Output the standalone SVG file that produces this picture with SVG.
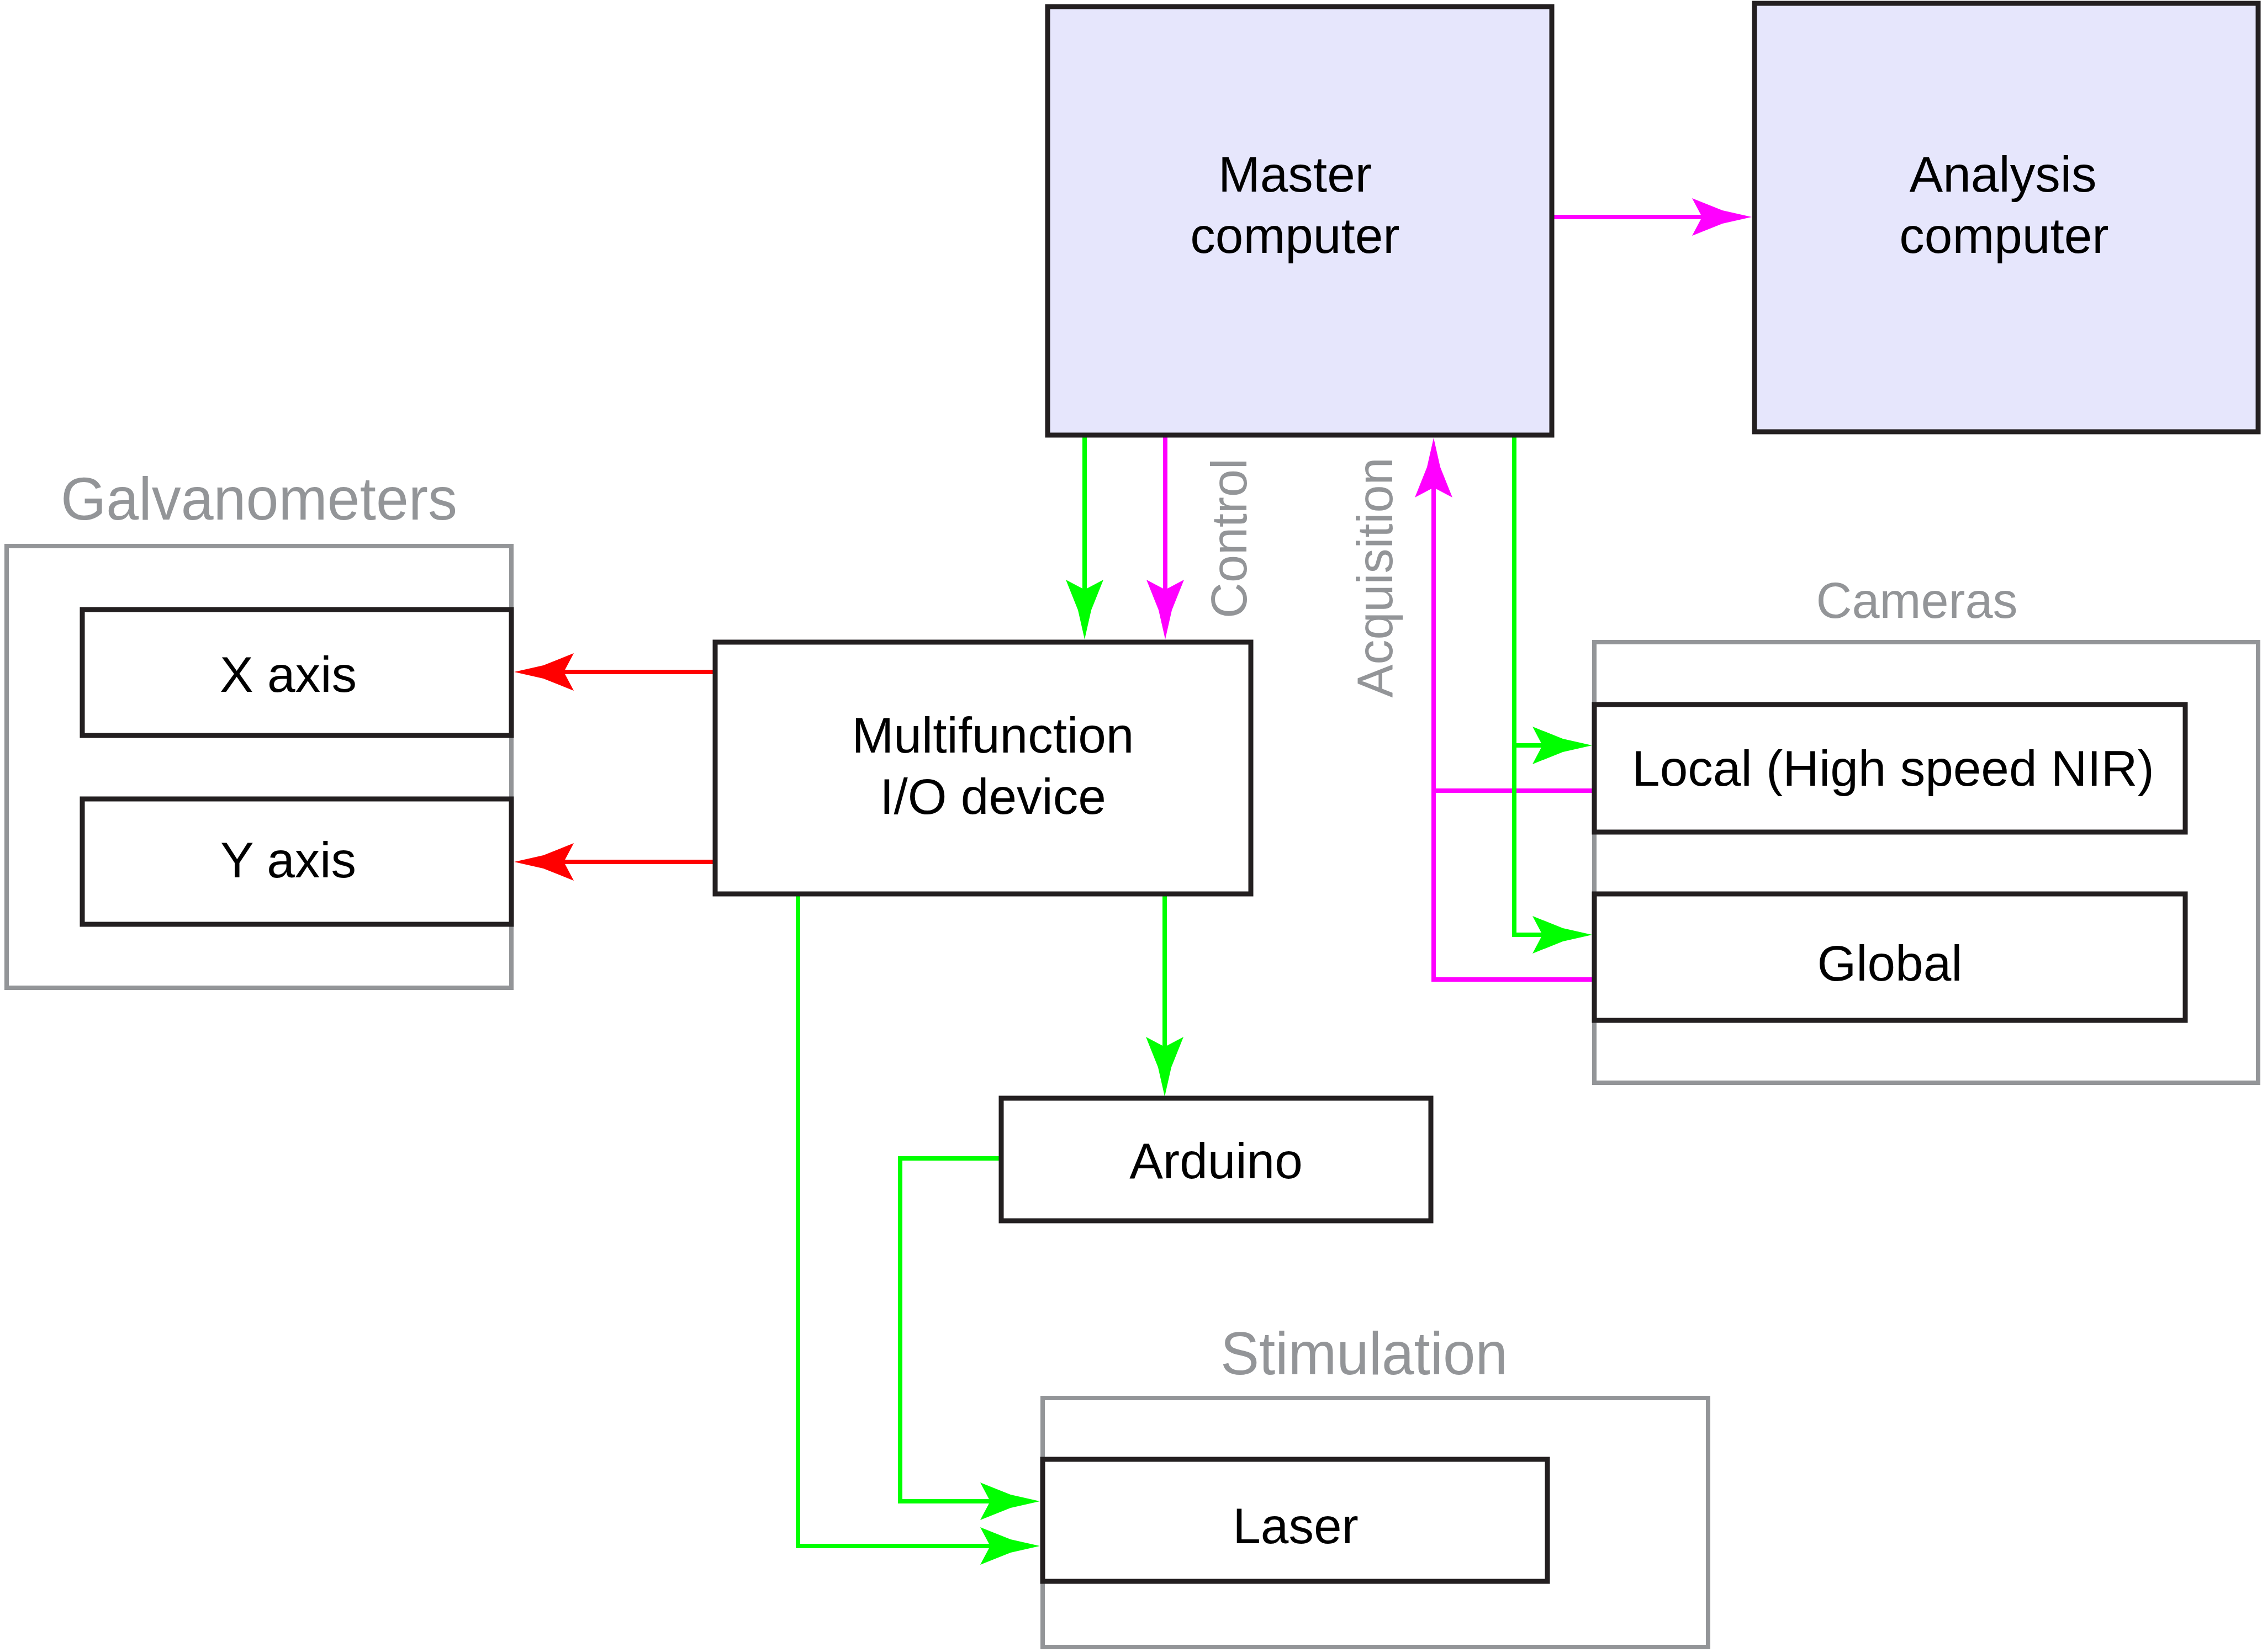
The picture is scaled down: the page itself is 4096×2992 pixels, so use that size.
<svg xmlns="http://www.w3.org/2000/svg" width="4096" height="2992" viewBox="0 0 4096 2992">
  <style>
    .box { fill: #ffffff; stroke: #231f20; stroke-width: 9; }
    .computer { fill: #e6e6fc; stroke: #231f20; stroke-width: 9; }
    .group { fill: none; stroke: #939598; stroke-width: 8; }
    .label { font-family: "Liberation Sans", Arial, Helvetica, sans-serif; font-size: 91px; fill: #000000; text-anchor: middle; }
    .title { font-family: "Liberation Sans", Arial, Helvetica, sans-serif; font-size: 110px; fill: #939598; text-anchor: middle; }
    .flow { font-family: "Liberation Sans", Arial, Helvetica, sans-serif; font-size: 90px; fill: #939598; text-anchor: middle; }
    .wire { fill: none; stroke-width: 8; stroke-linejoin: miter; stroke-linecap: butt; }
    .green { stroke: #00ff00; }
    .magenta { stroke: #ff00ff; }
    .red { stroke: #ff0000; }
  </style>
  <defs>
    <!-- swept arrowhead; the wire stops 70 units before the tip -->
    <marker id="arrow-green" markerUnits="userSpaceOnUse" orient="auto" viewBox="-112 -37 116 74" markerWidth="116" markerHeight="74" refX="-70" refY="0">
      <path d="M0,0 L-53,-12 L-108,-34 L-90,0 L-108,34 L-53,12 Z" fill="#00ff00"/>
    </marker>
    <marker id="arrow-magenta" markerUnits="userSpaceOnUse" orient="auto" viewBox="-112 -37 116 74" markerWidth="116" markerHeight="74" refX="-70" refY="0">
      <path d="M0,0 L-53,-12 L-108,-34 L-90,0 L-108,34 L-53,12 Z" fill="#ff00ff"/>
    </marker>
    <marker id="arrow-red" markerUnits="userSpaceOnUse" orient="auto" viewBox="-112 -37 116 74" markerWidth="116" markerHeight="74" refX="-70" refY="0">
      <path d="M0,0 L-53,-12 L-108,-34 L-90,0 L-108,34 L-53,12 Z" fill="#ff0000"/>
    </marker>
  </defs>

  <rect width="4096" height="2992" fill="#ffffff"/>

  <!-- grouping frames -->
  <g id="galvanometers">
    <rect class="group" x="12" y="989" width="914" height="800"/>
    <text class="title" x="469" y="941" textLength="718" lengthAdjust="spacingAndGlyphs">Galvanometers</text>
  </g>
  <g id="cameras">
    <rect class="group" x="2887" y="1163" width="1202" height="798"/>
    <text class="flow" x="3471" y="1119">Cameras</text>
  </g>
  <g id="stimulation">
    <rect class="group" x="1888" y="2532" width="1205" height="451"/>
    <text class="title" x="2470" y="2489" textLength="520" lengthAdjust="spacingAndGlyphs">Stimulation</text>
  </g>

  <!-- connectors -->
  <g id="connectors">
    <path class="wire magenta" d="M2810,393 H3102" marker-end="url(#arrow-magenta)"/>
    <path class="wire magenta" d="M2110,792 V1088" marker-end="url(#arrow-magenta)"/>
    <path class="wire magenta" d="M2887,1432 H2596"/>
    <path class="wire magenta" d="M2887,1774 H2596 V863" marker-end="url(#arrow-magenta)"/>
    <path class="wire green" d="M1964,792 V1088" marker-end="url(#arrow-green)"/>
    <path class="wire green" d="M2742,792 V1693 H2813" marker-end="url(#arrow-green)"/>
    <path class="wire green" d="M2742,1350 H2813" marker-end="url(#arrow-green)"/>
    <path class="wire red" d="M1291,1217 H1001" marker-end="url(#arrow-red)"/>
    <path class="wire red" d="M1291,1561 H1001" marker-end="url(#arrow-red)"/>
    <path class="wire green" d="M2109,1623 V1916" marker-end="url(#arrow-green)"/>
    <path class="wire green" d="M1445,1623 V2800 H1813" marker-end="url(#arrow-green)"/>
    <path class="wire green" d="M1809,2098 H1630 V2719 H1813" marker-end="url(#arrow-green)"/>
    <text class="flow" transform="translate(2257,975) rotate(-90)">Control</text>
    <text class="flow" transform="translate(2521,1046) rotate(-90)">Acquisition</text>
  </g>

  <!-- nodes -->
  <g id="master-computer">
    <rect class="computer" x="1897" y="12" width="913" height="776"/>
    <text class="label" x="2345" y="347">Master</text>
    <text class="label" x="2345" y="458">computer</text>
  </g>
  <g id="analysis-computer">
    <rect class="computer" x="3177" y="6" width="912" height="776"/>
    <text class="label" x="3627" y="347">Analysis</text>
    <text class="label" x="3629" y="458">computer</text>
  </g>
  <g id="io-device">
    <rect class="box" x="1295" y="1163" width="970" height="456"/>
    <text class="label" x="1798" y="1363">Multifunction</text>
    <text class="label" x="1798" y="1474">I/O device</text>
  </g>
  <g id="x-axis">
    <rect class="box" x="149" y="1104" width="777" height="228"/>
    <text class="label" x="522" y="1253">X axis</text>
  </g>
  <g id="y-axis">
    <rect class="box" x="149" y="1447" width="777" height="227"/>
    <text class="label" x="522" y="1589">Y axis</text>
  </g>
  <g id="local-camera">
    <rect class="box" x="2887" y="1276" width="1070" height="231"/>
    <text class="label" x="3428" y="1423">Local (High speed NIR)</text>
  </g>
  <g id="global-camera">
    <rect class="box" x="2887" y="1619" width="1070" height="229"/>
    <text class="label" x="3422" y="1776">Global</text>
  </g>
  <g id="arduino">
    <rect class="box" x="1813" y="1989" width="778" height="222"/>
    <text class="label" x="2202" y="2134">Arduino</text>
  </g>
  <g id="laser">
    <rect class="box" x="1888" y="2643" width="914" height="221"/>
    <text class="label" x="2346" y="2795">Laser</text>
  </g>
</svg>
